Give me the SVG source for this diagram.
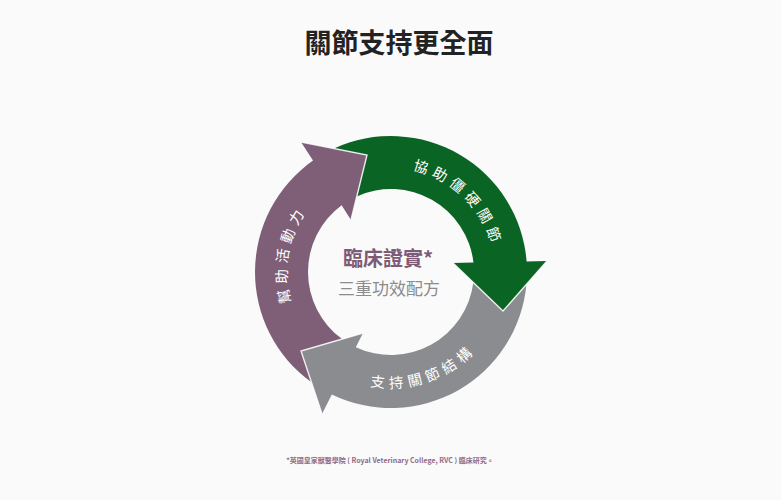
<svg xmlns="http://www.w3.org/2000/svg" width="781" height="500" viewBox="0 0 781 500">
  <defs>
    <style>
      .cjk { font-family: "Noto Sans CJK TC", "Noto Sans CJK SC", sans-serif; }
      .title { font-size: 27px; font-weight: 700; fill: #222222; }
      .arrow-label { font-size: 14.5px; fill: #ffffff; letter-spacing: 5px; }
      .c1 { font-size: 20px; font-weight: 700; fill: #7d5a76; }
      .c2 { font-size: 17px; fill: #8c8c8c; }
      .note { font-size: 7px; font-weight: 700; fill: #8d6c88; }
      .edge { fill: none; stroke: #ffffff; stroke-width: 1.4; stroke-opacity: 0.85; stroke-linejoin: miter; }
    </style>
    <path id="tp-green" d="M 362.68 171.93 A 104 104 0 0 1 491.82 297.51"/>
    <path id="tp-purple" d="M 324.35 351.83 A 104 104 0 0 1 355.16 174.36"/>
    <path id="tp-gray" d="M 314.06 358.81 A 116 116 0 0 0 504.66 295.22"/>
  </defs>
  <rect width="781" height="500" fill="#fafafa"/>

  <g id="title">
    <text class="cjk title" x="399" y="53" text-anchor="middle">關節支持更全面</text>
  </g>

  <g id="arrow-green">
    <path fill="#0a6423" d="M 334.0 148.5 A 136 136 0 0 1 526.6 261.57 L 547 261 L 503 311 L 453 263 L 473.45 262.46 A 83 83 0 0 0 356.8 196.4 L 367 155 Z"/>
    <text class="cjk arrow-label"><textPath href="#tp-green" startOffset="50%" text-anchor="middle">協助僵硬關節</textPath></text>
  </g>

  <g id="arrow-gray">
    <path fill="#8a8c8f" d="M 526.44 284.37 A 136 136 0 0 1 331.81 394.44 L 322 414 L 301 351 L 363 333 L 355.79 347.16 A 83 83 0 0 0 473.33 282.52 L 503 311 Z"/>
    <text class="cjk arrow-label"><textPath href="#tp-gray" startOffset="50%" text-anchor="middle">支持關節結構</textPath></text>
  </g>

  <g id="arrow-purple">
    <path fill="#7f5f78" d="M 311.43 382.29 A 136 136 0 0 1 313.0 160.6 L 301 142 L 367 155 L 351 220 L 341.63 205.28 A 83 83 0 0 0 342.1 339.07 L 301 351 Z"/>
    <text class="cjk arrow-label"><textPath href="#tp-purple" startOffset="50%" text-anchor="middle">幫助活動力</textPath></text>
  </g>

  <g id="connectors">
    <polyline class="edge" points="301,142 367,155 351,220"/>
    <polyline class="edge" points="547,261 503,311 453,263"/>
    <polyline class="edge" points="363,333 301,351 322,414"/>
  </g>

  <g id="center">
    <text class="cjk c1" x="388" y="266" text-anchor="middle">臨床證實*</text>
    <text class="cjk c2" x="389" y="295" text-anchor="middle">三重功效配方</text>
  </g>

  <g id="footnote">
    <text class="cjk note" x="390" y="463" text-anchor="middle">*英國皇家獸醫學院 ( Royal Veterinary College, RVC ) 臨床研究。</text>
  </g>
</svg>
